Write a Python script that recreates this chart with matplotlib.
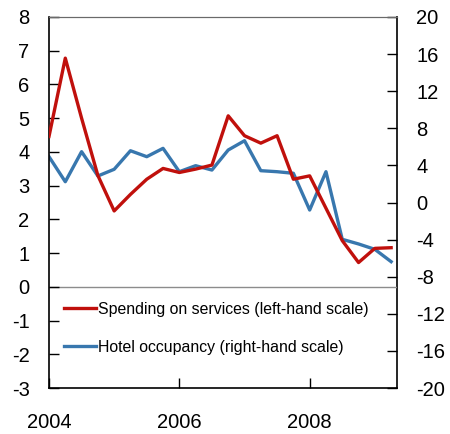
import matplotlib
matplotlib.use("Agg")
import matplotlib.pyplot as plt
import numpy as np

plt.rcParams['font.family'] = ['Liberation Sans', 'DejaVu Sans']
plt.rcParams['axes.unicode_minus'] = False

# Quarterly data, 2004Q1 .. 2009Q2
dates = [2004 + 0.25 * i for i in range(22)]
spending = [4.46, 6.78, 5.0, 3.3, 2.25, 2.74, 3.19, 3.51, 3.39, 3.49, 3.61,
            5.07, 4.48, 4.26, 4.48, 3.19, 3.29, 2.33, 1.37, 0.72, 1.14, 1.16]
hotel = [4.94, 2.24, 5.48, 2.86, 3.58, 5.58, 4.94, 5.84, 3.32, 3.97, 3.5,
         5.66, 6.66, 3.43, 3.32, 3.15, -0.81, 3.32, -3.97, -4.47, -5.05, -6.38]

left_ticks = list(range(-3, 9))
right_ticks = list(range(-20, 21, 4))
x_ticks = [2004, 2006, 2008]

red = '#C0100C'
blue = '#3877AE'

fig = plt.figure(figsize=(4.5, 4.34), dpi=100)
ax = fig.add_axes([49/450, 1 - 388/434, (397-49)/450, (388-17)/434])
ax2 = ax.twinx()

ax.axhline(0, color='#8c8c8c', lw=1.0, zorder=1)
l1, = ax.plot(dates, spending, color=red, lw=2.4, label='Spending on services (left-hand scale)', zorder=3)
l2, = ax2.plot(dates, hotel, color=blue, lw=2.4, label='Hotel occupancy (right-hand scale)', zorder=2)

ax.set_zorder(ax2.get_zorder() + 1)
ax.patch.set_visible(False)

ax.set_xlim(2004, 2009.34)
ax.set_ylim(-3, 8)
ax2.set_ylim(-20, 20)
ax.set_yticks(left_ticks)
ax2.set_yticks(right_ticks)
ax.set_xticks(x_ticks)
ax.set_xticklabels([str(t) for t in x_ticks])

ax.tick_params(axis='y', direction='in', length=7, width=1, labelsize=14.5, pad=14)
ax2.tick_params(axis='y', direction='in', length=7, width=1, labelsize=14.5, pad=14)
ax.tick_params(axis='x', direction='in', length=7, width=1, labelsize=14.5, pad=18)

for s in ['left', 'bottom']:
    ax.spines[s].set_color('black')
    ax.spines[s].set_linewidth(1.2)
ax2.spines['right'].set_color('black')
ax2.spines['right'].set_linewidth(1.2)
ax.spines['top'].set_color('#6a6a6a')
ax2.spines['top'].set_color('#6a6a6a')
ax.spines['right'].set_visible(False)
ax2.spines['left'].set_visible(False)
ax2.spines['bottom'].set_visible(False)

leg = ax.legend(handles=[l1, l2], loc='upper left', bbox_to_anchor=(0.025, 0.25),
                frameon=False, fontsize=11.4, handlelength=2.0, handletextpad=0.15,
                labelspacing=1.45, borderaxespad=0)

fig.savefig('out.png', dpi=100)
